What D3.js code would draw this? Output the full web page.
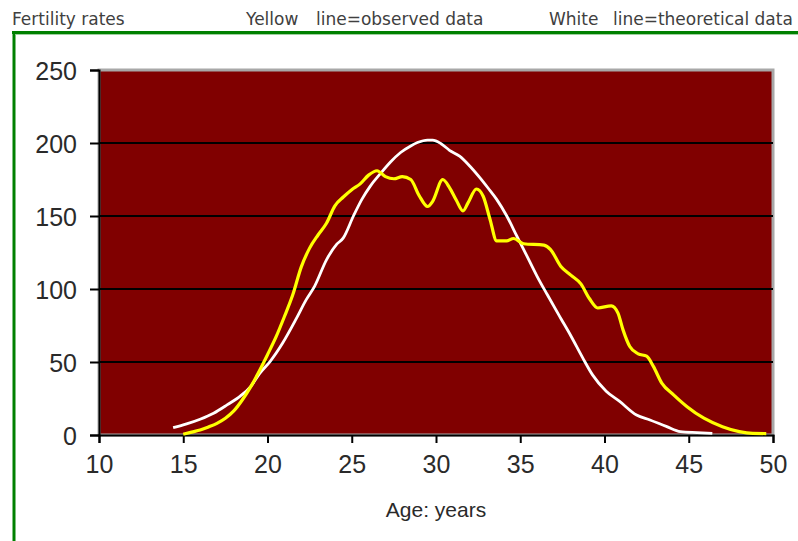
<!DOCTYPE html>
<html>
<head>
<meta charset="utf-8">
<script src="https://cdn.jsdelivr.net/npm/d3@7/dist/d3.min.js"></script>
<style>
  html, body { margin: 0; padding: 0; background: #fff; }
  svg { display: block; }
</style>
</head>
<body>
<svg id="chart" width="798" height="541"></svg>
<script>
// ---- data ----
const xTicks = [10, 15, 20, 25, 30, 35, 40, 45, 50];
const yTicks = [0, 50, 100, 150, 200, 250];

// observed (yellow)
const obsAge  = [15.0, 15.5, 16.0, 16.5, 17.0, 17.5, 18.0, 18.5, 19.0, 19.5, 20.0, 20.5, 21.0, 21.5, 22.0, 22.5, 23.0, 23.5, 24.0, 24.5, 25.0, 25.5, 26.0, 26.5, 27.0, 27.5, 28.0, 28.5, 29.0, 29.5, 29.8, 30.4, 30.8, 31.2, 31.6, 31.9, 32.4, 32.8, 33.2, 33.6, 34.2, 34.6, 35.2, 36.4, 36.8, 37.4, 38.0, 38.6, 39.1, 39.6, 40.4, 40.8, 41.1, 41.5, 42.0, 42.5, 42.9, 43.4, 44.1, 44.9, 45.9, 47.0, 48.0, 48.8, 49.6];
const obsRate = [0.5, 2, 3.4, 5.5, 8.0, 11.5, 16.5, 24, 33, 43.5, 55, 67, 81, 96, 115, 128, 137, 145, 157, 163, 168, 172, 178, 181, 177, 175.5, 177, 175, 164, 156.5, 160, 175, 169.5, 161, 153.5, 159, 168.5, 163.5, 148, 133, 133, 134.6, 131, 130, 127, 115.6, 109.5, 103.5, 93.5, 87, 88.5, 83.5, 72, 60.6, 55.6, 54, 47, 35.5, 27.5, 19.4, 11.5, 5.7, 2.3, 1.1, 1.0];

// theoretical (white)
const thAge  = [14.4, 15.2, 16.0, 16.8, 17.6, 18.4, 19.0, 19.55, 20.15, 20.9, 21.7, 22.3, 22.8, 23.5, 24.1, 24.5, 25.1, 25.6, 26.1, 26.7, 27.3, 27.9, 28.5, 28.9, 29.5, 29.8, 30.3, 30.8, 31.4, 32.0, 32.6, 33.1, 33.6, 34.2, 34.8, 35.4, 36.0, 36.6, 37.4, 38.0, 38.7, 39.3, 40.1, 40.9, 41.9, 42.7, 43.7, 44.5, 45.5, 46.4];
const thRate = [5.0, 7.6, 10.8, 14.9, 20.6, 26.8, 33.2, 42.4, 50.3, 63, 79.5, 92.7, 102, 120, 130.5, 135, 150, 161.4, 170.5, 179, 187, 193.5, 198, 200.3, 202, 202, 199.5, 195, 191, 184.3, 176.3, 169, 161.4, 150, 136.2, 122.5, 108.7, 96.2, 80, 68, 53, 41, 30, 23, 13.7, 10.3, 5.7, 2.3, 1.6, 1.1];

const headTexts = ["Fertility rates", "Yellow", "line=observed data", "White", "line=theoretical data"];
const xTitle = "Age: years";

// ---- layout ----
const svg = d3.select("#chart");
const L = 99, R = 773, T = 70, B = 435;

const x = d3.scaleLinear().domain([10, 50]).range([L, R]);
const y = d3.scaleLinear().domain([0, 250]).range([B, T]);

// header texts
const headX = [12, 246, 316, 549, 613];
svg.append("g").selectAll("text").data(headTexts).join("text")
  .attr("x", (d, i) => headX[i])
  .attr("y", 25)
  .attr("font-family", "'DejaVu Sans', Verdana, sans-serif")
  .attr("font-size", 17)
  .attr("fill", "#404040")
  .text(d => d);

// green frame
svg.append("line").attr("x1", 12).attr("x2", 798).attr("y1", 32.5).attr("y2", 32.5)
  .attr("stroke", "#008000").attr("stroke-width", 3);
svg.append("line").attr("x1", 14).attr("x2", 14).attr("y1", 31).attr("y2", 541)
  .attr("stroke", "#008000").attr("stroke-width", 3);
svg.append("line").attr("x1", 15.5).attr("x2", 798).attr("y1", 34.5).attr("y2", 34.5)
  .attr("stroke", "#9fd09f").attr("stroke-width", 1);

// plot area
svg.append("rect")
  .attr("x", L).attr("y", T).attr("width", R - L).attr("height", B - T)
  .attr("fill", "#800000").attr("stroke", "#a8a8a8").attr("stroke-width", 3);

// grid lines
svg.append("g").selectAll("line").data(yTicks.filter(v => v > 0 && v < 250)).join("line")
  .attr("x1", L).attr("x2", R)
  .attr("y1", d => y(d)).attr("y2", d => y(d))
  .attr("stroke", "#000").attr("stroke-width", 2);

// y axis
const yAxis = d3.axisLeft(y).tickValues(yTicks).tickSize(9).tickPadding(13).tickFormat(d3.format("d"));
const gy = svg.append("g").attr("transform", `translate(${L},0)`).call(yAxis);
gy.select(".domain").attr("stroke", "#000").attr("stroke-width", 2);
gy.selectAll(".tick line").attr("stroke", "#000").attr("stroke-width", 2);
gy.selectAll(".tick text")
  .attr("font-family", "'Liberation Sans', Arial, sans-serif")
  .attr("font-size", 25).attr("fill", "#2a2a2a").attr("dy", "0.36em");

// x axis
const xAxis = d3.axisBottom(x).tickValues(xTicks).tickSize(8).tickPadding(12).tickFormat(d3.format("d"));
const gx = svg.append("g").attr("transform", `translate(0,${B})`).call(xAxis);
gx.select(".domain").attr("stroke", "#000").attr("stroke-width", 2);
gx.selectAll(".tick line").attr("stroke", "#000").attr("stroke-width", 2);
gx.selectAll(".tick text")
  .attr("font-family", "'Liberation Sans', Arial, sans-serif")
  .attr("font-size", 25).attr("fill", "#2a2a2a");

// axis title
svg.append("text")
  .attr("x", (L + R) / 2).attr("y", 517)
  .attr("text-anchor", "middle")
  .attr("font-family", "'Liberation Sans', Arial, sans-serif")
  .attr("font-size", 21).attr("fill", "#2a2a2a")
  .text(xTitle);

// lines
const line = d3.line().x(d => x(d[0])).y(d => y(d[1])).curve(d3.curveMonotoneX);
const thData = thAge.map((a, i) => [a, thRate[i]]);
const obsData = obsAge.map((a, i) => [a, obsRate[i]]);

svg.append("path").datum(thData).attr("d", line)
  .attr("fill", "none").attr("stroke", "#ffffff").attr("stroke-width", 2.8)
  .attr("stroke-linejoin", "round");
svg.append("path").datum(obsData).attr("d", line)
  .attr("fill", "none").attr("stroke", "#ffff00").attr("stroke-width", 3.2)
  .attr("stroke-linejoin", "round");
</script>
</body>
</html>
